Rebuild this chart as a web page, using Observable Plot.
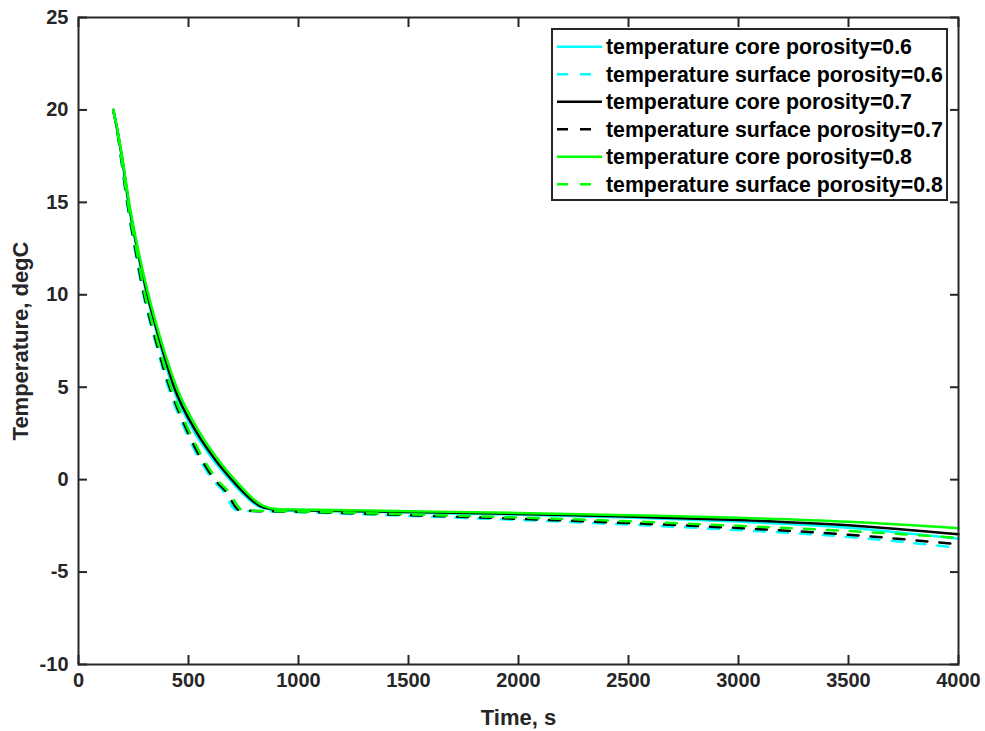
<!DOCTYPE html>
<html><head><meta charset="utf-8">
<script src="https://cdn.jsdelivr.net/npm/d3@7"></script>
<script src="https://cdn.jsdelivr.net/npm/@observablehq/plot@0.6"></script>
<style>
body{margin:0;background:#fff;}
#wrap{position:relative;width:985px;height:731px;}
#legend{position:absolute;left:0;top:0;}
</style>
</head><body><div id="wrap"></div>
<script>
// ---- data (time s, temperature degC) ----
const seriesNames = [
  "temperature core porosity=0.6",
  "temperature surface porosity=0.6",
  "temperature core porosity=0.7",
  "temperature surface porosity=0.7",
  "temperature core porosity=0.8",
  "temperature surface porosity=0.8"
];
const seriesColors = ["#00FFFF","#00FFFF","#000000","#000000","#00FF00","#00FF00"];
const seriesDashed = [false,true,false,true,false,true];

const coreP06 = [[158,20],[175,19.0],[196,17.5],[226,15],[265,12.5],[310,10],[366,7.5],[428,5],[530,2.5],[617,1.0],[687,0],[737,-0.65],[777,-1.1],[817,-1.44],[857,-1.58],[907,-1.65],[1000,-1.67],[1500,-1.78],[2000,-1.9],[2500,-2.05],[3000,-2.27],[3500,-2.6],[4000,-3.2]];
const surfP06 = [[158,20],[175,18.9],[194,17.3],[220,15],[255,12.5],[295,10],[348,7.5],[408,5],[480,2.8],[532,1.5],[610,0],[661,-0.67],[712,-1.62],[730,-1.67],[1000,-1.76],[1500,-1.96],[2000,-2.18],[2500,-2.43],[3000,-2.73],[3500,-3.1],[4000,-3.69]];
const coreP07 = [[158,20],[175,19.0],[197,17.5],[228,15],[267,12.5],[313,10],[370,7.5],[435,5],[540,2.5],[627,1.0],[697,0],[747,-0.65],[787,-1.1],[827,-1.43],[867,-1.57],[917,-1.63],[1000,-1.65],[1500,-1.75],[2000,-1.86],[2500,-2.0],[3000,-2.18],[3500,-2.47],[4000,-2.96]];
const surfP07 = [[158,20],[176,18.9],[195,17.3],[222,15],[258,12.5],[298,10],[352,7.5],[414,5],[488,2.8],[540,1.5],[620,0],[672,-0.67],[726,-1.62],[745,-1.67],[1000,-1.74],[1500,-1.92],[2000,-2.12],[2500,-2.35],[3000,-2.62],[3500,-2.98],[4000,-3.5]];
const coreP08 = [[158,20],[176,19.0],[198,17.5],[230,15],[270,12.5],[318,10],[376,7.5],[446,5],[553,2.5],[640,1.0],[710,0],[760,-0.65],[800,-1.1],[840,-1.42],[880,-1.56],[930,-1.61],[1000,-1.62],[1500,-1.71],[2000,-1.8],[2500,-1.92],[3000,-2.06],[3500,-2.28],[4000,-2.63]];
const surfP08 = [[158,20],[176,18.9],[196,17.3],[224,15],[262,12.5],[302,10],[358,7.5],[420,5],[496,2.8],[550,1.5],[630,0],[684,-0.67],[740,-1.62],[760,-1.67],[1000,-1.72],[1500,-1.88],[2000,-2.05],[2500,-2.25],[3000,-2.5],[3500,-2.78],[4000,-3.15]];
const seriesData = [coreP06, surfP06, coreP07, surfP07, coreP08, surfP08];

const xTicks = [0,500,1000,1500,2000,2500,3000,3500,4000];
const yTicks = [-10,-5,0,5,10,15,20,25];
const xLabel = "Time, s";
const yLabel = "Temperature, degC";

// ---- build ----
const axisColor = "#262626";
const dash = "11,12";
const font = "'Liberation Sans', Arial, Helvetica, sans-serif";
const fmt = d => String(d);

const lineMarks = seriesData.map((arr, i) =>
  Plot.line(arr.map(([t, T]) => ({t, T, s: seriesNames[i]})), {
    x: "t", y: "T", stroke: seriesColors[i], strokeWidth: 2.5,
    strokeDasharray: seriesDashed[i] ? dash : null,
    curve: "monotone-x"
  })
);

const chart = Plot.plot({
  width: 985, height: 731,
  marginLeft: 78, marginRight: 27, marginTop: 17, marginBottom: 67,
  style: {fontFamily: font, fontWeight: "bold", fontSize: "20px", color: axisColor, background: "#fff", overflow: "visible"},
  x: {domain: [0, 4000]},
  y: {domain: [-10, 25]},
  marks: [
    ...lineMarks,
    Plot.frame({stroke: axisColor, strokeWidth: 2}),
    Plot.axisX(xTicks, {anchor: "bottom", tickSize: 9, tickPadding: -1, strokeWidth: 2, stroke: axisColor, tickFormat: fmt,
      label: xLabel, labelAnchor: "center", labelArrow: "none", labelOffset: 60, fill: axisColor}),
    Plot.axisX(xTicks, {anchor: "top", tickSize: 9, strokeWidth: 2, stroke: axisColor, tickFormat: () => "", label: null}),
    Plot.axisY(yTicks, {anchor: "left", tickSize: 9, tickPadding: 1, strokeWidth: 2, stroke: axisColor, tickFormat: fmt,
      label: yLabel, labelAnchor: "center", labelArrow: "none", labelOffset: 66, fill: axisColor}),
    Plot.axisY(yTicks, {anchor: "right", tickSize: 9, strokeWidth: 2, stroke: axisColor, tickFormat: () => "", label: null})
  ]
});

const wrap = document.getElementById("wrap");
wrap.appendChild(chart);
const svg = d3.select(chart);
svg.selectAll('g[aria-label="x-axis label"] text, g[aria-label="y-axis label"] text')
  .style("font-size", "22px").style("font-weight", "bold");
// point tick marks inward (MATLAB style)
function translateOf(el) {
  const m = /translate\(\s*([-\d.]+)[ ,]+([-\d.]+)/.exec(el.getAttribute("transform") || "");
  return m ? [+m[1], +m[2]] : [0, 0];
}
svg.selectAll('g[aria-label="x-axis tick"] path').each(function() {
  const [, ty] = translateOf(this);
  d3.select(this).attr("d", ty > 340 ? "M0,0L0,-9" : "M0,0L0,9");
});
svg.selectAll('g[aria-label="y-axis tick"] path').each(function() {
  const [tx] = translateOf(this);
  d3.select(this).attr("d", tx < 500 ? "M0,0L9,0" : "M0,0L-9,0");
});

// ---- legend (overlay) ----
const lg = d3.select(wrap).append("svg").attr("id", "legend")
  .attr("width", 985).attr("height", 731).style("pointer-events", "none");
const box = {x: 552, y: 29, w: 395, h: 171};
lg.append("rect").attr("x", box.x).attr("y", box.y).attr("width", box.w).attr("height", box.h)
  .attr("fill", "#fff").attr("stroke", axisColor).attr("stroke-width", 2);
seriesNames.forEach((name, i) => {
  const cy = box.y + 17.7 + i * 27.5;
  lg.append("line").attr("x1", box.x + 5).attr("x2", box.x + 50).attr("y1", cy).attr("y2", cy)
    .attr("stroke", seriesColors[i]).attr("stroke-width", 2.5)
    .attr("stroke-dasharray", seriesDashed[i] ? dash : null);
  lg.append("text").attr("x", box.x + 54).attr("y", cy).attr("dy", "0.36em")
    .attr("font-family", font).attr("font-weight", "bold").attr("font-size", 21.3)
    .attr("fill", "#000").text(name);
});
</script>
</body></html>
